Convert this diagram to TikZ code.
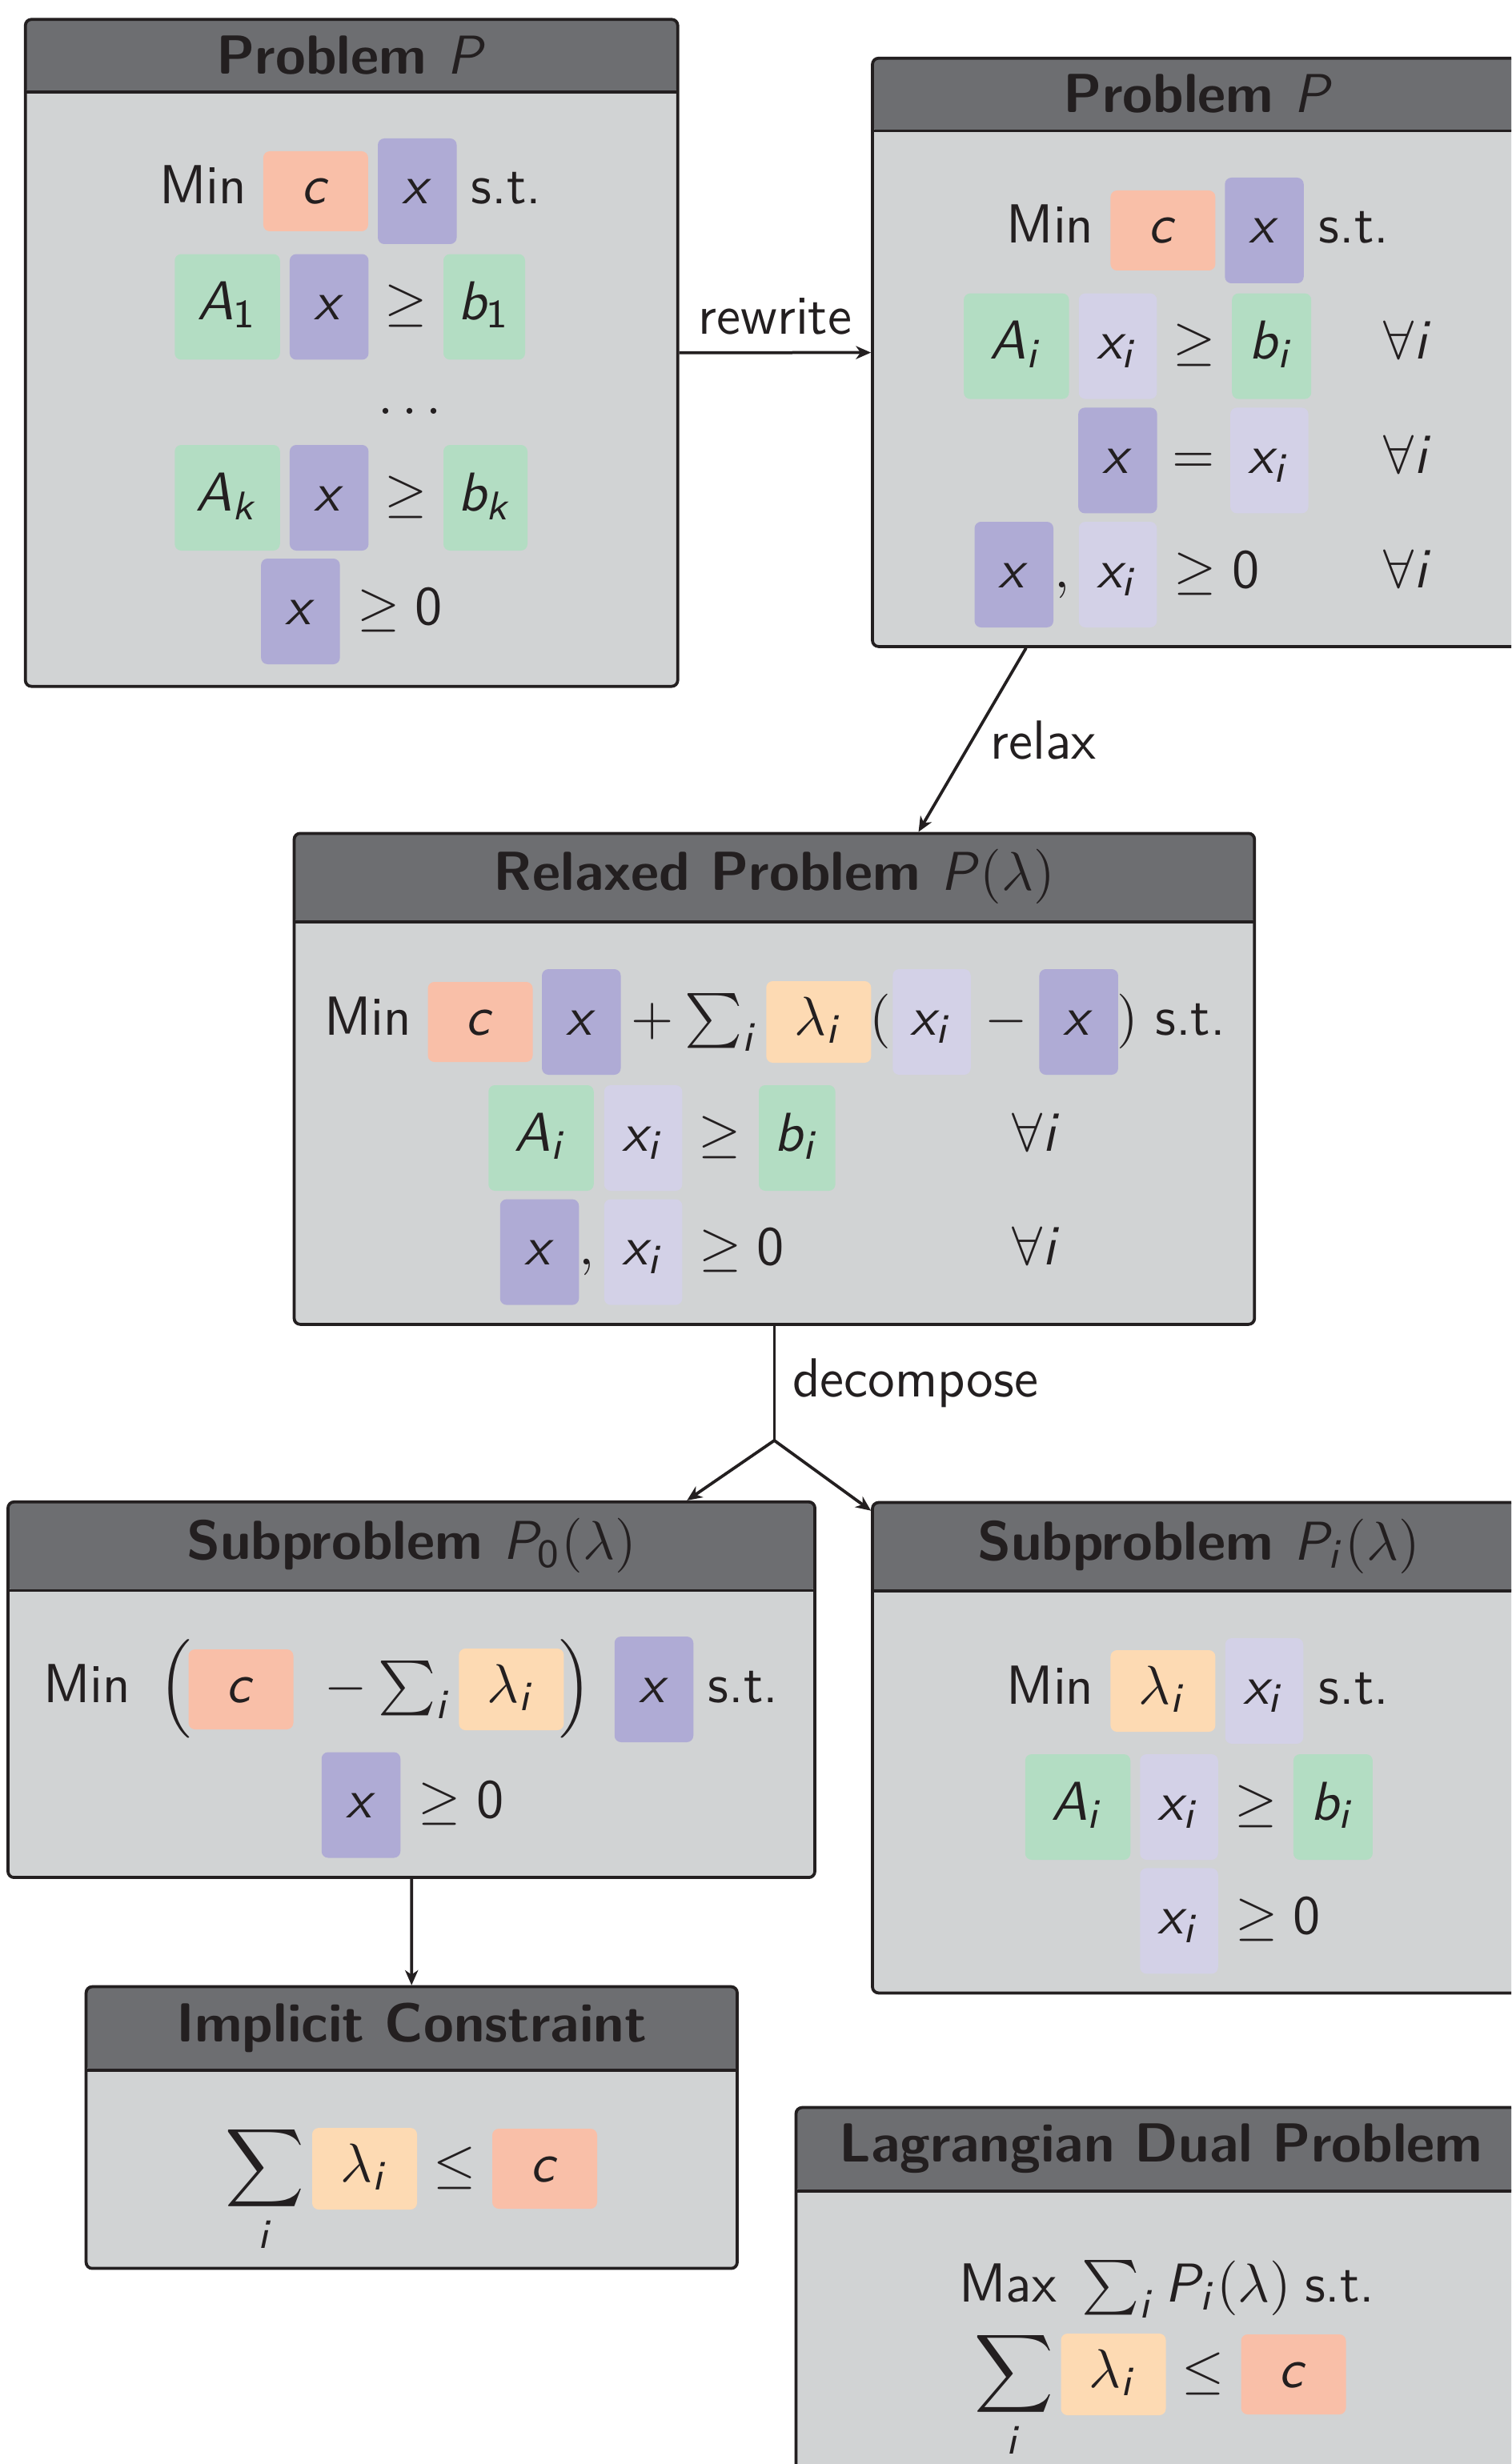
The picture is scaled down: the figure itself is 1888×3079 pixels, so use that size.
\documentclass[tikz,border=0pt]{standalone}
\usepackage{amsmath}
\usetikzlibrary{arrows.meta}

% sans-serif slanted letters for the variables, upright sans for digits
\DeclareMathAlphabet{\mathsfit}{OT1}{cmss}{m}{sl}
\newcommand\sv[1]{\mathsfit{#1}}
\newcommand\sd[1]{\mathsf{#1}}

\definecolor{ink}{HTML}{231F20}
\definecolor{hdrc}{HTML}{6D6E71}
\definecolor{bodyc}{HTML}{D1D3D4}
\definecolor{csal}{HTML}{F9BFA8}
\definecolor{xpur}{HTML}{AFABD5}
\definecolor{xilt}{HTML}{D3D1E7}
\definecolor{agrn}{HTML}{B3DDC3}
\definecolor{lpch}{HTML}{FDDAB3}

\tikzset{
  every node/.style={text=ink},
  txt/.style={inner sep=0pt, anchor=base},
  hlbase/.style={inner sep=0pt, anchor=base, rounded corners=1.3pt},
  hltall/.style={hlbase, text height=13.12pt, text depth=8pt},
  hlshort/.style={hlbase, text height=10.56pt, text depth=5.44pt},
  hlc/.style={hlshort, fill=csal, minimum width=20.96pt},
  hll/.style={hlbase, text height=10.72pt, text depth=5.6pt, fill=lpch, minimum width=20.96pt},
  hlx/.style={hltall, fill=xpur, minimum width=15.76pt},
  hli/.style={hltall, fill=xilt, minimum width=15.6pt},
  hla/.style={hltall, fill=agrn, minimum width=21.04pt},
  hlb/.style={hltall, fill=agrn, minimum width=15.84pt},
  panelbox/.style={draw=ink, line width=0.6pt, fill=bodyc, rounded corners=1.2pt,
    inner sep=0pt, anchor=north},
  ptitle/.style={anchor=north, font=\sffamily\bfseries\fontsize{11}{13}\selectfont},
  lbl/.style={text=ink},
  conn/.style={draw=ink, line width=0.6pt},
  arr/.style={conn, -{Stealth[length=3pt, width=2.6pt, inset=0.9pt]}},
}

% panel: name, centre x, top y, width, height, title
\newcommand\panel[6]{%
  \node[ptitle] (#1-hd) at (#2,#3) {\phantom{#6}};
  \node[panelbox, minimum width=#4, minimum height=#5,
    path picture={
      \fill[hdrc] (path picture bounding box.north west)
        rectangle (path picture bounding box.east |- #1-hd.south);
      \draw[ink, line width=0.6pt] (path picture bounding box.west |- #1-hd.south)
        -- (path picture bounding box.east |- #1-hd.south);
    }] (#1) at (#2,#3) {};
  \node[ptitle] (#1-title) at (#2,#3) {#6};
}

\begin{document}
\begin{tikzpicture}[x=0.16pt, y=-0.16pt, font=\sffamily\fontsize{11}{13}\selectfont]
\path[use as bounding box, fill=white] (0,0) rectangle (1888,3079);
\clip (0,0) rectangle (1888,3079);

% ---------- original problem ----------
\panel{b1}{439.2}{22.4}{130.4pt}{133.34pt}{Problem $\sv{P}$}
\node[txt] (b1-min) at (253.4,255) {Min};
\node[hlc] (b1-c) at (394.4,255) {$\sv{c}$};
\node[hlx] (b1-x) at (521.3,255) {$\sv{x}$};
\node[txt] (b1-st) at (632.7,255) {s.t.};
\node[hla] (b1-a1) at (284,399.5) {$\sv{A}_{\sd{1}}$};
\node[hlx] (b1-x1) at (411.2,399.5) {$\sv{x}$};
\node[txt] (b1-ge1) at (507,399.5) {$\geq$};
\node[hlb, minimum width=16.32pt] (b1-b1) at (605,399.5) {$\sv{b}_{\sd{1}}$};
\node[txt] (b1-dots) at (512,517) {$\ldots$};
\node[hla] (b1-ak) at (284,638) {$\sv{A}_{\sv{k}}$};
\node[hlx] (b1-xk) at (411.2,638) {$\sv{x}$};
\node[txt] (b1-ge2) at (507,638) {$\geq$};
\node[hlb, minimum width=16.8pt] (b1-bk) at (606.5,638) {$\sv{b}_{\sv{k}}$};
\node[hlx] (b1-x0) at (375.4,780) {$\sv{x}$};
\node[txt] (b1-ge0) at (499.3,780) {$\geq \sd{0}$};

% ---------- rewritten problem ----------
\panel{b2}{1497.5}{70.9}{130.4pt}{117.62pt}{Problem $\sv{P}$}
\node[txt] (b2-min) at (1312,304) {Min};
\node[hlc] (b2-c) at (1452.9,304) {$\sv{c}$};
\node[hlx] (b2-x) at (1579.5,304) {$\sv{x}$};
\node[txt] (b2-st) at (1691.5,304) {s.t.};
\node[hla] (b2-a) at (1269.8,448.6) {$\sv{A}_{\sv{i}}$};
\node[hli] (b2-xi1) at (1396.5,448.6) {$\sv{x}_{\sv{i}}$};
\node[txt] (b2-ge1) at (1492.4,448.6) {$\geq$};
\node[hlb] (b2-b) at (1588.7,448.6) {$\sv{b}_{\sv{i}}$};
\node[txt] (b2-all1) at (1759,448.6) {$\forall \sv{i}$};
\node[hlx] (b2-x2) at (1396.4,591.4) {$\sv{x}$};
\node[txt] (b2-eq) at (1491,591.4) {$=$};
\node[hli] (b2-xi2) at (1585.8,591.4) {$\sv{x}_{\sv{i}}$};
\node[txt] (b2-all2) at (1759,591.4) {$\forall \sv{i}$};
\node[hlx] (b2-x3) at (1266.8,734) {$\sv{x}$};
\node[txt] (b2-comma) at (1327,734) {$,$};
\node[hli] (b2-xi3) at (1396.5,734) {$\sv{x}_{\sv{i}}$};
\node[txt] (b2-ge0) at (1520,734) {$\geq \sd{0}$};
\node[txt] (b2-all3) at (1759,734) {$\forall \sv{i}$};

% ---------- relaxed problem ----------
\panel{b3}{967.4}{1039.5}{191.97pt}{98.16pt}{Relaxed Problem $\sv{P}(\lambda)$}
\node[txt] (b3-min) at (459.6,1293) {Min};
\node[hlc] (b3-c) at (600,1293) {$\sv{c}$};
\node[hlx] (b3-x) at (726.3,1293) {$\sv{x}$};
\node[txt] (b3-plus) at (815,1293) {$+$};
\node[txt] (b3-sum) at (902,1293) {$\sum_{\sv{i}}$};
\node[hll] (b3-l) at (1022.8,1293) {$\lambda_{\sv{i}}$};
\node[txt] (b3-lp) at (1100,1293) {$($};
\node[hli] (b3-xi) at (1164,1293) {$\sv{x}_{\sv{i}}$};
\node[txt] (b3-minus) at (1257,1293) {$-$};
\node[hlx] (b3-x2) at (1347.7,1293) {$\sv{x}$};
\node[txt] (b3-rp) at (1409,1293) {$)$};
\node[txt] (b3-st) at (1487,1293) {s.t.};
\node[hla] (b3-a) at (676,1438) {$\sv{A}_{\sv{i}}$};
\node[hli] (b3-xi2) at (803.6,1438) {$\sv{x}_{\sv{i}}$};
\node[txt] (b3-ge) at (899,1438) {$\geq$};
\node[hlb, minimum width=15.3pt] (b3-b) at (995.8,1438) {$\sv{b}_{\sv{i}}$};
\node[txt] (b3-all1) at (1295.4,1438) {$\forall \sv{i}$};
\node[hlx] (b3-x3) at (674,1580.6) {$\sv{x}$};
\node[txt] (b3-comma) at (733,1580.6) {$,$};
\node[hli] (b3-xi3) at (803.6,1580.6) {$\sv{x}_{\sv{i}}$};
\node[txt] (b3-ge0) at (926.8,1580.6) {$\geq \sd{0}$};
\node[txt] (b3-all2) at (1295.4,1580.6) {$\forall \sv{i}$};

% ---------- subproblem 0 ----------
\panel{b4}{514}{1874.9}{161.28pt}{75.09pt}{Subproblem $\sv{P}_{\sd{0}}(\lambda)$}
\node[txt] (b4-min) at (108.9,2127) {Min};
\node[txt] (b4-lp) at (219,2127) {$\Big($};
\node[hlc] (b4-c) at (301,2127) {$\sv{c}$};
\node[txt] (b4-minus) at (432,2127) {$-$};
\node[txt] (b4-sum) at (519,2127) {$\sum_{\sv{i}}$};
\node[hll] (b4-l) at (638.9,2127) {$\lambda_{\sv{i}}$};
\node[txt] (b4-rp) at (719,2127) {$\Big)$};
\node[hlx] (b4-x) at (817,2127) {$\sv{x}$};
\node[txt] (b4-st) at (928.5,2127) {s.t.};
\node[hlx] (b4-x2) at (451,2271.5) {$\sv{x}$};
\node[txt] (b4-ge0) at (576,2271.5) {$\geq \sd{0}$};

% ---------- subproblem i ----------
\panel{b5}{1497.5}{1875.7}{130.4pt}{98.05pt}{Subproblem $\sv{P}_{\sv{i}}(\lambda)$}
\node[txt] (b5-min) at (1312,2129) {Min};
\node[hll] (b5-l) at (1452.9,2129) {$\lambda_{\sv{i}}$};
\node[hli] (b5-xi) at (1579.5,2129) {$\sv{x}_{\sv{i}}$};
\node[txt] (b5-st) at (1691.5,2129) {s.t.};
\node[hla] (b5-a) at (1346.5,2274) {$\sv{A}_{\sv{i}}$};
\node[hli] (b5-xi2) at (1473,2274) {$\sv{x}_{\sv{i}}$};
\node[txt] (b5-ge) at (1568.7,2274) {$\geq$};
\node[hlb] (b5-b) at (1665.4,2274) {$\sv{b}_{\sv{i}}$};
\node[hli] (b5-xi3) at (1473,2416.4) {$\sv{x}_{\sv{i}}$};
\node[txt] (b5-ge0) at (1596.4,2416.4) {$\geq \sd{0}$};

% ---------- implicit constraint ----------
\panel{b6}{514.3}{2480.7}{130.14pt}{56.32pt}{Implicit Constraint}
\node[txt] (b6-sum) at (331,2726) {$\displaystyle\sum_{\sv{i}}$};
\node[hll] (b6-l) at (455.5,2726) {$\lambda_{\sv{i}}$};
\node[txt] (b6-le) at (568,2726) {$\leq$};
\node[hlc] (b6-c) at (680.5,2726) {$\sv{c}$};

% ---------- Lagrangian dual ----------
\panel{b7}{1450.5}{2631.7}{145.92pt}{96pt}{Lagrangian Dual Problem}
\node[txt] (b7-obj) at (1458,2876)
  {Max\hspace{5pt}$\sum_{\sv{i}} \sv{P}_{\sv{i}}(\lambda)$\hspace{2.7pt}s.t.};
\node[txt] (b7-sum) at (1266.5,2983) {$\displaystyle\sum_{\sv{i}}$};
\node[hll] (b7-l) at (1391,2983) {$\lambda_{\sv{i}}$};
\node[txt] (b7-le) at (1503,2983) {$\leq$};
\node[hlc] (b7-c) at (1616,2983) {$\sv{c}$};

% ---------- connectors ----------
\draw[arr] (b1) -- node[lbl, above] (l-rewrite) {rewrite} (b2);
\draw[arr] (b2) -- node[lbl, right] (l-relax) {relax} (b3);
\coordinate (fork) at (967.4,1800);
\draw[conn] (b3) -- node[lbl, right] (l-decompose) {decompose} (fork);
\draw[arr] (fork) -- (b4);
\draw[arr] (fork) -- (b5);
\draw[arr] (b4) -- (b6);
\end{tikzpicture}
\end{document}
